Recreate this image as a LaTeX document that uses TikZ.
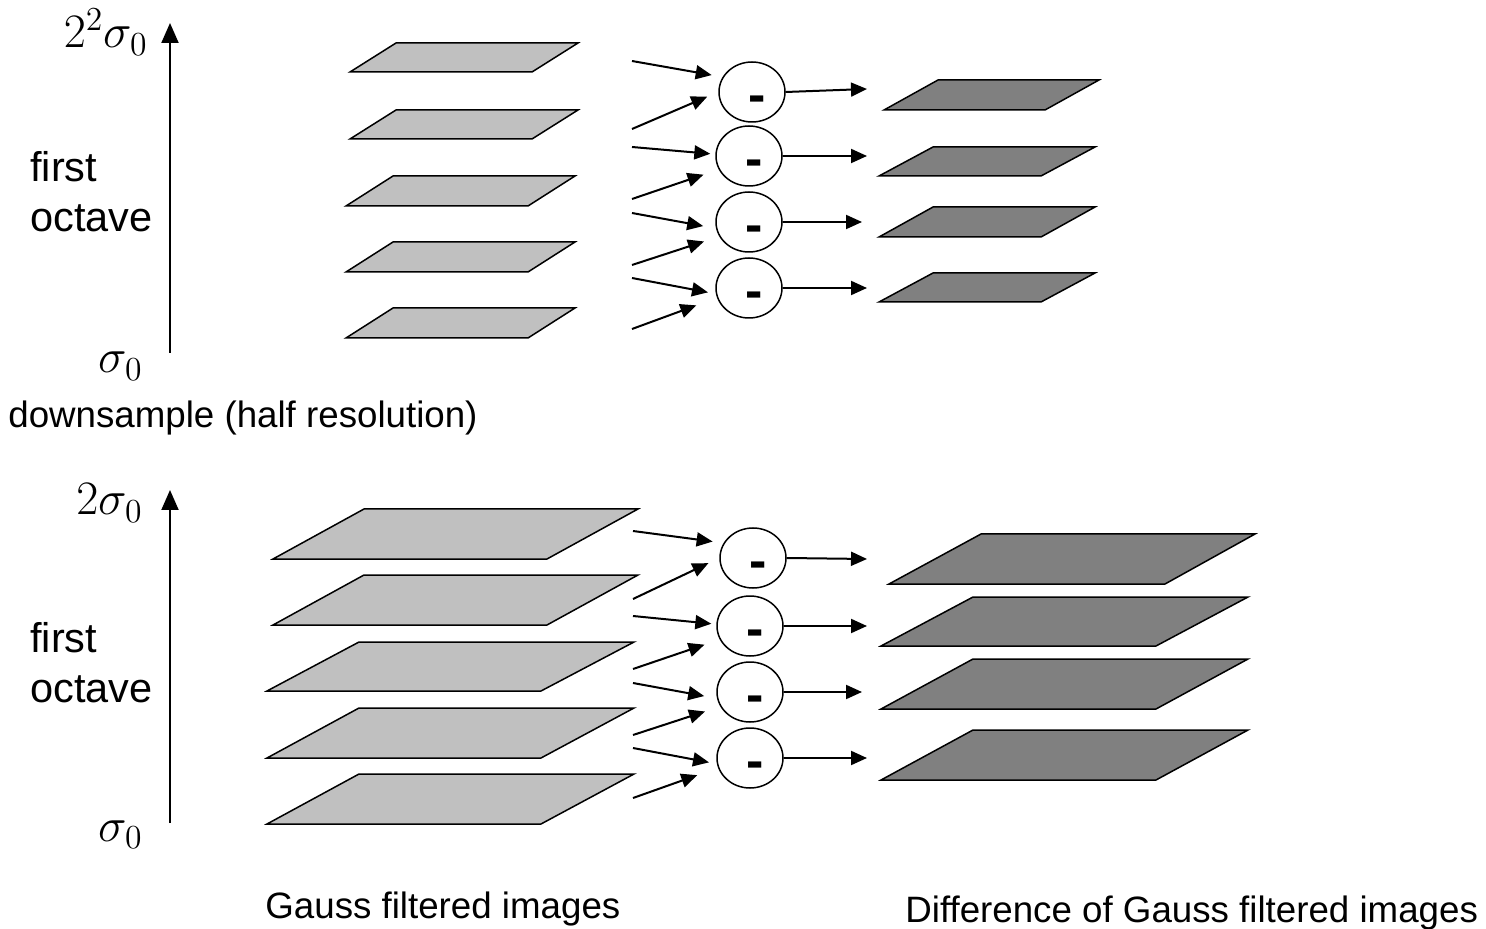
\RequirePackage{fix-cm}
\documentclass[tikz,border=0pt]{standalone}
\usepackage{fontspec}
\setmainfont{Liberation Sans}
\usetikzlibrary{arrows.meta, shapes.geometric}
\definecolor{gaussfill}{HTML}{C0C0C0}
\definecolor{dogfill}{HTML}{808080}
\tikzset{
  gplane/.style={draw=black, fill=gaussfill, line width=0.75pt},
  dplane/.style={draw=black, fill=dogfill, line width=0.75pt},
  diffop/.style={ellipse, draw=black, line width=0.75pt, minimum width=33pt, minimum height=30pt, inner sep=0pt,
    label={[font=\fontsize{26}{30}\selectfont\bfseries, anchor=base, inner sep=0pt, xshift=2.5pt, yshift=-6pt]center:-}},
  lbl/.style={font=\fontsize{18.35}{25}\selectfont, inner sep=0pt},
  octlbl/.style={font=\fontsize{20.75}{25}\selectfont, inner sep=0pt, align=left},
  mlbl/.style={font=\fontsize{24}{28}\selectfont, inner sep=0pt},
  arr/.style={-{Triangle[length=8pt, width=7pt]}, line width=1pt},
  axis/.style={-{Triangle[length=10pt, width=8.5pt]}, line width=1pt},
}
\begin{document}
\begin{tikzpicture}[x=0.5pt, y=-0.5pt]
  \useasboundingbox (0,0) rectangle (1486,929);

  % upper octave
  \node[mlbl, anchor=base east] (tsig2) at (148,48) {$2^2\sigma_0$};
  \node[mlbl, anchor=base east] (tsig0) at (143,373) {$\sigma_0$};
  \node[octlbl, anchor=base west] (toct) at (30,232) {first\\octave};
  \coordinate (tax0) at (170,353);
  \coordinate (tax1) at (170,23);
  \draw[axis] (tax0) -- (tax1);
  \node[lbl, anchor=base west] (down) at (8,428) {downsample (half resolution)};

  \draw[gplane] (350,72) -- (532,72) -- (578,43) -- (396,43) -- cycle;
  \draw[gplane] (350,139) -- (532,139) -- (578,110) -- (396,110) -- cycle;
  \draw[gplane] (346,206) -- (528,206) -- (575,176) -- (393,176) -- cycle;
  \draw[gplane] (346,272) -- (528,272) -- (575,242) -- (393,242) -- cycle;
  \draw[gplane] (346,338) -- (528,338) -- (575,308) -- (393,308) -- cycle;

  \node[diffop] (td1) at (752,92) {};
  \node[diffop] (td2) at (749,156) {};
  \node[diffop] (td3) at (749,222) {};
  \node[diffop] (td4) at (749,288) {};

  \coordinate (ta1) at (632,61);  \coordinate (tb1) at (632,129);
  \coordinate (ta2) at (632,147); \coordinate (tb2) at (632,199);
  \coordinate (ta3) at (632,213); \coordinate (tb3) at (632,265);
  \coordinate (ta4) at (632,278); \coordinate (tb4) at (632,329);
  \draw[arr, shorten >=5.5pt] (ta1) -- (td1.153);
  \draw[arr, shorten >=6pt] (tb1) -- (td1.180);
  \draw[arr, shorten >=2.5pt] (ta2) -- (td2.177);
  \draw[arr, shorten >=8pt] (tb2) -- (td2.204);
  \draw[arr, shorten >=6.5pt] (ta3) -- (td3.191);
  \draw[arr, shorten >=8pt] (tb3) -- (td3.206);
  \draw[arr, shorten >=4pt] (ta4) -- (td4.190);
  \draw[arr, shorten >=11pt] (tb4) -- (td4.197);

  \coordinate (to1) at (867,89);
  \coordinate (to2) at (867,156);
  \coordinate (to3) at (862,222);
  \coordinate (to4) at (867,288);
  \draw[arr] (td1.east) -- (to1);
  \draw[arr] (td2.east) -- (to2);
  \draw[arr] (td3.east) -- (to3);
  \draw[arr] (td4.east) -- (to4);

  \draw[dplane] (884,110) -- (1045,110) -- (1099,80) -- (938,80) -- cycle;
  \draw[dplane] (879,176) -- (1041,176) -- (1095,147) -- (933,147) -- cycle;
  \draw[dplane] (879,237) -- (1041,237) -- (1095,207) -- (933,207) -- cycle;
  \draw[dplane] (879,302) -- (1041,302) -- (1095,273) -- (933,273) -- cycle;

  % lower octave
  \node[mlbl, anchor=base east] (bsig2) at (143,515) {$2\sigma_0$};
  \node[mlbl, anchor=base east] (bsig0) at (143,841) {$\sigma_0$};
  \node[octlbl, anchor=base west] (boct) at (30,702) {first\\octave};
  \coordinate (bax0) at (170,823);
  \coordinate (bax1) at (170,490);
  \draw[axis] (bax0) -- (bax1);

  \draw[gplane] (273,559) -- (547,559) -- (638,509) -- (364,509) -- cycle;
  \draw[gplane] (273,625) -- (547,625) -- (638,575) -- (364,575) -- cycle;
  \draw[gplane] (267,691) -- (541,691) -- (634,642) -- (359,642) -- cycle;
  \draw[gplane] (267,758) -- (541,758) -- (634,708) -- (359,708) -- cycle;
  \draw[gplane] (267,824) -- (541,824) -- (634,774) -- (359,774) -- cycle;

  \node[diffop] (bd1) at (753,558) {};
  \node[diffop] (bd2) at (750,626) {};
  \node[diffop] (bd3) at (750,692) {};
  \node[diffop] (bd4) at (750,758) {};

  \coordinate (ba1) at (633,531); \coordinate (bb1) at (633,599);
  \coordinate (ba2) at (633,616); \coordinate (bb2) at (633,669);
  \coordinate (ba3) at (633,683); \coordinate (bb3) at (633,735);
  \coordinate (ba4) at (633,748); \coordinate (bb4) at (633,798);
  \draw[arr, shorten >=5.5pt] (ba1) -- (bd1.153);
  \draw[arr, shorten >=6pt] (bb1) -- (bd1.180);
  \draw[arr, shorten >=2.5pt] (ba2) -- (bd2.177);
  \draw[arr, shorten >=8pt] (bb2) -- (bd2.204);
  \draw[arr, shorten >=6.5pt] (ba3) -- (bd3.191);
  \draw[arr, shorten >=8pt] (bb3) -- (bd3.206);
  \draw[arr, shorten >=4pt] (ba4) -- (bd4.190);
  \draw[arr, shorten >=11pt] (bb4) -- (bd4.197);

  \coordinate (bo1) at (867,559);
  \coordinate (bo2) at (867,626);
  \coordinate (bo3) at (862,692);
  \coordinate (bo4) at (867,758);
  \draw[arr] (bd1.east) -- (bo1);
  \draw[arr] (bd2.east) -- (bo2);
  \draw[arr] (bd3.east) -- (bo3);
  \draw[arr] (bd4.east) -- (bo4);

  \draw[dplane] (889,584) -- (1165,584) -- (1255,534) -- (981,534) -- cycle;
  \draw[dplane] (881,646) -- (1156,646) -- (1248,597) -- (973,597) -- cycle;
  \draw[dplane] (881,709) -- (1156,709) -- (1248,659) -- (973,659) -- cycle;
  \draw[dplane] (881,780) -- (1156,780) -- (1248,730) -- (973,730) -- cycle;

  \node[lbl, anchor=base west] (gauss) at (265,918) {Gauss filtered images};
  \node[lbl, anchor=base west] (dog) at (905,922) {Difference of Gauss filtered images};
\end{tikzpicture}
\end{document}
